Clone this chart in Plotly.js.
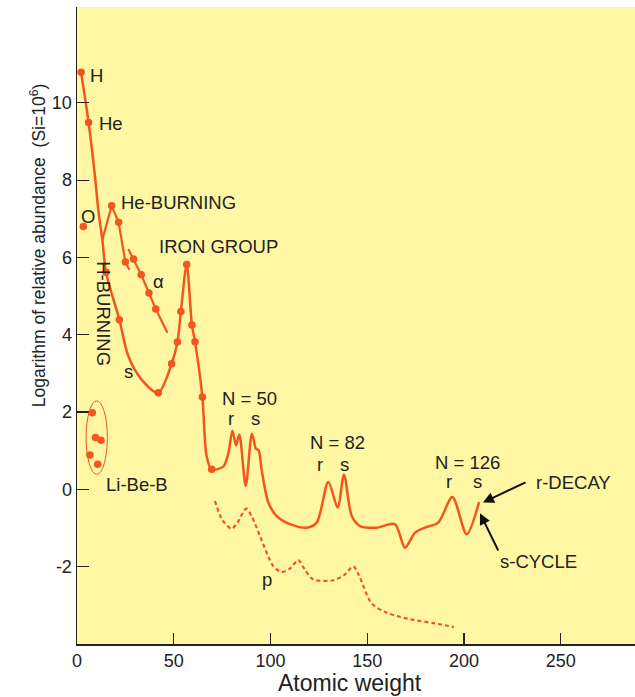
<!DOCTYPE html>
<html>
<head>
<meta charset="utf-8">
<script src="https://cdn.plot.ly/plotly-3.0.1.min.js"></script>
<style>html,body{margin:0;padding:0;background:#fff;}#chart{width:635px;height:697px;}</style>
</head>
<body>
<div id="chart"></div>
<script>
// Main abundance curve (solid)
const mainX = [2.1, 6.0, 9.3, 11.0, 13.1, 15.0, 21.9, 26.5, 33.4, 42.0, 48.9, 51.9, 53.7, 56.7, 59.4, 61.0, 64.8, 67.0, 69.6, 75.6, 78.3, 80.3, 82.2, 83.9, 87.2, 90.4, 92.5, 93.9, 95.4, 98.9, 103.2, 110.1, 118.7, 123.9, 129.9, 134.7, 138.0, 142.0, 146.3, 154.9, 164.3, 169.5, 174.7, 179.8, 186.7, 194.0, 201.4, 207.8];
const mainY = [10.79, 9.49, 8.10, 7.23, 6.46, 5.62, 4.39, 3.45, 2.84, 2.50, 3.25, 3.81, 4.60, 5.82, 4.25, 3.82, 2.39, 0.86, 0.52, 0.59, 0.95, 1.52, 1.14, 1.42, 0.09, 1.44, 1.05, 1.01, 0.52, -0.34, -0.69, -0.90, -0.99, -0.86, 0.19, -0.47, 0.38, -0.69, -0.95, -0.99, -0.90, -1.51, -1.12, -0.99, -0.86, -0.20, -1.16, -0.33];
const mainDotX = [2.1, 6.0, 15.0, 21.9, 42.0, 48.9, 51.9, 53.7, 56.7, 59.4, 61.0, 64.8, 69.6];
const mainDotY = [10.79, 9.49, 5.62, 4.39, 2.50, 3.25, 3.81, 4.60, 5.82, 4.25, 3.82, 2.39, 0.52];
// He-burning branch
const heX = [13.1, 17.9, 21.5, 25.0, 27.1];
const heY = [6.46, 7.34, 6.91, 5.88, 5.68];
const heDotX = [17.9, 21.5, 25.0];
const heDotY = [7.34, 6.91, 5.88];
// alpha branch
const alphaX = [26.5, 29.2, 33.2, 37.2, 40.7, 46.7];
const alphaY = [6.22, 5.96, 5.55, 5.08, 4.67, 4.05];
const alphaDotX = [29.2, 33.2, 37.2, 40.7];
const alphaDotY = [5.96, 5.55, 5.08, 4.67];
// oxygen
const oX = [3.3];
const oY = [6.80];
// Li-Be-B
const libebX = [7.9, 9.6, 12.4, 6.7, 10.7];
const libebY = [1.98, 1.34, 1.27, 0.89, 0.65];
// p-process (dashed)
const pX = [71.3, 75.0, 79.9, 83.0, 87.5, 90.5, 94.6, 101.4, 105.8, 110.0, 114.4, 118.0, 122.1, 132.5, 138.0, 142.8, 145.5, 152.3, 160.0, 172.1, 184.2, 194.8];
const pY = [-0.30, -0.78, -1.02, -0.85, -0.50, -0.72, -1.21, -1.98, -2.14, -2.05, -1.83, -2.10, -2.33, -2.35, -2.22, -1.99, -2.20, -2.95, -3.19, -3.36, -3.46, -3.56];

const xTicks = [0, 50, 100, 150, 200, 250];
const yTicks = [-2, 0, 2, 4, 6, 8, 10];

const C = '#F2561F';
const T = '#222222';
const F = 'Liberation Sans, Arial, sans-serif';
const AS = 18.5;

const traces = [
  {x: mainX, y: mainY, mode: 'lines', line: {color: C, width: 2.5, shape: 'spline', smoothing: 0.8}},
  {x: heX, y: heY, mode: 'lines', line: {color: C, width: 2.2}},
  {x: alphaX, y: alphaY, mode: 'lines', line: {color: C, width: 2.2}},
  {x: pX, y: pY, mode: 'lines', line: {color: C, width: 2.2, dash: '4px,3px', shape: 'spline', smoothing: 0.8}},
  {x: mainDotX.concat(heDotX, alphaDotX, oX, libebX), y: mainDotY.concat(heDotY, alphaDotY, oY, libebY), mode: 'markers', marker: {color: C, size: 7.5}}
];

function ann(text, x, y, o) {
  return Object.assign({text: text, x: x, y: y, xref: 'x', yref: 'y', showarrow: false, font: {family: F, size: AS, color: T}}, o || {});
}
function arrow(x, y, ax, ay) {
  return {text: '', x: x, y: y, ax: ax, ay: ay, xref: 'x', yref: 'y', axref: 'x', ayref: 'y', showarrow: true, arrowhead: 2, arrowsize: 1.1, arrowwidth: 2, arrowcolor: '#111'};
}

const annotations = [
  ann('H', 10.3, 10.70),
  ann('He', 17.6, 9.46),
  ann('O', 5.7, 7.05),
  ann('He-BURNING', 21.7, 7.42, {xanchor: 'left'}),
  ann('IRON GROUP', 41.3, 6.28, {xanchor: 'left'}),
  ann('α', 41.9, 5.37),
  ann('H-BURNING', 13.6, 4.55, {textangle: 90}),
  ann('s', 26.5, 3.06),
  ann('Li-Be-B', 14.0, 0.13, {xanchor: 'left'}),
  ann('N = 50', 89.4, 2.34),
  ann('r', 79.4, 1.83),
  ann('s', 92.0, 1.83),
  ann('N = 82', 134.4, 1.22),
  ann('r', 125.6, 0.65),
  ann('s', 138.0, 0.65),
  ann('N = 126', 201.6, 0.69),
  ann('r', 192.2, 0.20),
  ann('s', 207.1, 0.20),
  ann('r-DECAY', 236.2, 0.18, {xanchor: 'left'}),
  ann('s-CYCLE', 217.6, -1.86, {xanchor: 'left'}),
  ann('p', 98.0, -2.33),
  arrow(209.8, -0.34, 232.6, 0.20),
  arrow(208.3, -0.62, 218.1, -1.62),
  {text: 'Logarithm of relative abundance  (Si=10<sup>6</sup>)', xref: 'paper', yref: 'paper', x: -0.07, y: 0.626, xanchor: 'center', yanchor: 'middle', textangle: -90, showarrow: false, font: {family: F, size: 17.5, color: T}},
  {text: 'Atomic weight', xref: 'paper', yref: 'paper', x: 0.489, y: -0.0612, xanchor: 'center', yanchor: 'middle', showarrow: false, font: {family: F, size: 23, color: T}}
];

const layout = {
  width: 635, height: 697,
  margin: {l: 77, r: 0, t: 7, b: 53},
  paper_bgcolor: '#ffffff',
  plot_bgcolor: '#FFF7A3',
  showlegend: false,
  font: {family: F, color: T, size: 18},
  xaxis: {range: [0, 288.4], tickvals: xTicks, ticktext: xTicks.map(String), ticks: 'inside', ticklen: 11, tickwidth: 1.2, tickcolor: '#222', showline: true, linecolor: '#222', linewidth: 1.5, showgrid: false, zeroline: false, tickfont: {size: 18, color: T}},
  yaxis: {range: [-4, 12.48], tickvals: yTicks, ticktext: yTicks.map(String), ticks: 'inside', ticklen: 12, tickwidth: 1.2, tickcolor: '#222', showline: true, linecolor: '#222', linewidth: 1.5, showgrid: false, zeroline: false, tickfont: {size: 18, color: T}},
  shapes: [
    {type: 'circle', xref: 'x', yref: 'y', x0: 4.7, x1: 15.7, y0: 0.39, y1: 2.29, line: {color: C, width: 1}}
  ],
  annotations: annotations
};

Plotly.newPlot('chart', traces, layout, {displayModeBar: false, staticPlot: true});
</script>
</body>
</html>
